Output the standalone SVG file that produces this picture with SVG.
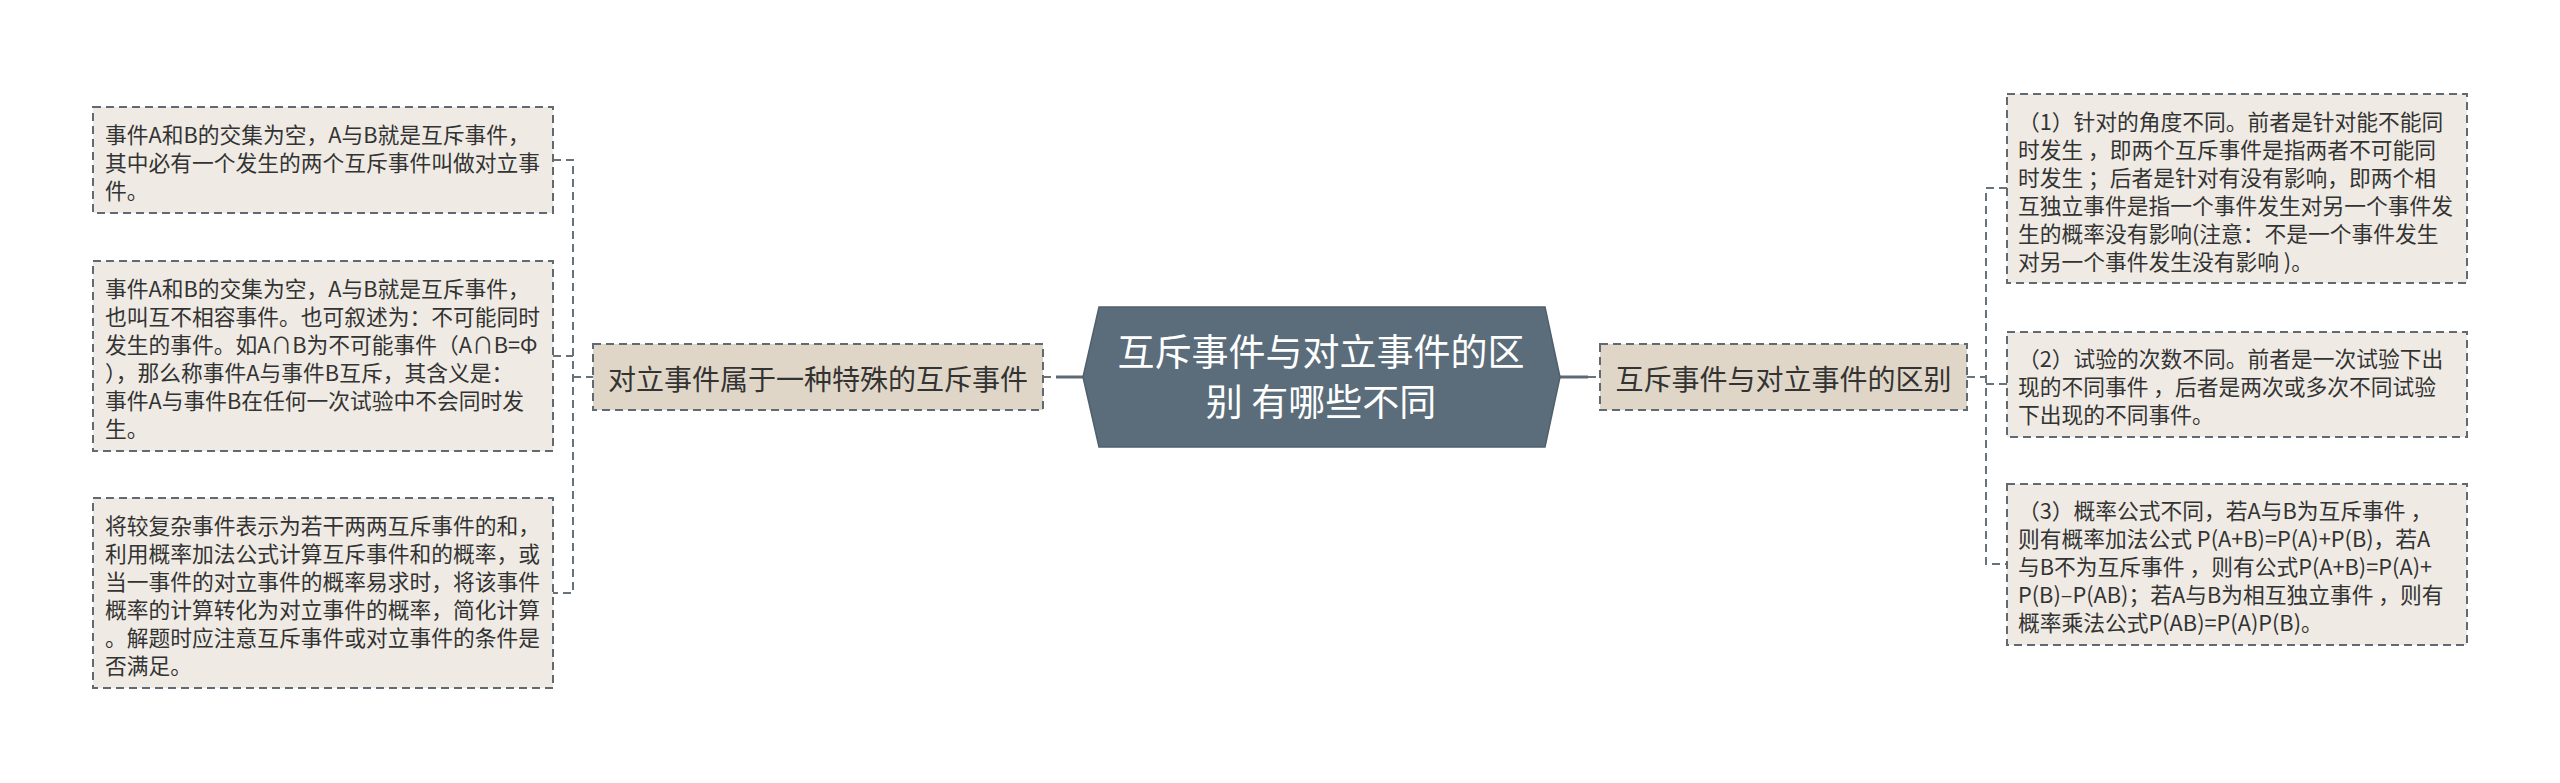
<svg xmlns="http://www.w3.org/2000/svg" width="2560" height="783" viewBox="0 0 2560 783">
<style>
text{font-family:"Noto Sans CJK SC","Noto Sans",sans-serif;fill:#333333}
.leaf{fill:#efebe4;stroke:#5f6a72;stroke-width:2;stroke-dasharray:8 5}
.lvl1{fill:#e0d6c7;stroke:#5f6a72;stroke-width:2;stroke-dasharray:8 5}
.lt{font-size:21.75px}
.nt{font-size:28px;text-anchor:middle}
.ct{font-size:37px;text-anchor:middle;fill:#ffffff}
.dash{fill:none;stroke:#67727b;stroke-width:2;stroke-dasharray:8 5}
.solid{fill:none;stroke:#5a6b77;stroke-width:3}
</style>
<rect width="2560" height="783" fill="#ffffff"/>
<g id="connectors">
<path class="dash" d="M553,160 H573 V593 H553 M553,356 H573 M573,377 H593"/>
<path class="dash" d="M1043,377 H1056" stroke-dasharray="3 4"/>
<path class="solid" d="M1056,377 H1083"/>
<path class="solid" d="M1560,377 H1588"/>
<path class="dash" d="M1588,377 H1600" stroke-dasharray="4 4"/>
<path class="dash" d="M1967,377 H1986 M2007,188 H1986 V564 H2007 M1986,384 H2007"/>
</g>
<g id="center">
<polygon points="1099,307 1545,307 1560,377 1545,447 1099,447 1083,377" fill="#5b6d7a" stroke="#4f606c" stroke-width="1.5"/>
<text class="ct" x="1321" y="366">互斥事件与对立事件的区</text>
<text class="ct" x="1321" y="416">别 有哪些不同</text>
</g>
<g id="left-main">
<rect class="lvl1" x="593" y="344" width="450" height="66"/>
<text class="nt" x="818" y="390">对立事件属于一种特殊的互斥事件</text>
</g>
<g id="right-main">
<rect class="lvl1" x="1600" y="344" width="367" height="66"/>
<text class="nt" x="1783.5" y="390">互斥事件与对立事件的区别</text>
</g>
<g id="left-1">
<rect class="leaf" x="93" y="107" width="460" height="106"/>
<text class="lt" x="105" y="143">事件A和B的交集为空，A与B就是互斥事件，</text>
<text class="lt" x="105" y="171">其中必有一个发生的两个互斥事件叫做对立事</text>
<text class="lt" x="105" y="199">件。</text>
</g>
<g id="left-2">
<rect class="leaf" x="93" y="261" width="460" height="190"/>
<text class="lt" x="105" y="297">事件A和B的交集为空，A与B就是互斥事件，</text>
<text class="lt" x="105" y="325">也叫互不相容事件。也可叙述为：不可能同时</text>
<text class="lt" x="105" y="353">发生的事件。如A∩B为不可能事件（A∩B=Φ</text>
<text class="lt" x="105" y="381">），那么称事件A与事件B互斥，其含义是：</text>
<text class="lt" x="105" y="409">事件A与事件B在任何一次试验中不会同时发</text>
<text class="lt" x="105" y="437">生。</text>
</g>
<g id="left-3">
<rect class="leaf" x="93" y="498" width="460" height="190"/>
<text class="lt" x="105" y="534">将较复杂事件表示为若干两两互斥事件的和，</text>
<text class="lt" x="105" y="562">利用概率加法公式计算互斥事件和的概率，或</text>
<text class="lt" x="105" y="590">当一事件的对立事件的概率易求时，将该事件</text>
<text class="lt" x="105" y="618">概率的计算转化为对立事件的概率，简化计算</text>
<text class="lt" x="105" y="646">。解题时应注意互斥事件或对立事件的条件是</text>
<text class="lt" x="105" y="674">否满足。</text>
</g>
<g id="right-1">
<rect class="leaf" x="2007" y="94" width="460" height="189"/>
<text class="lt" x="2018" y="130">（1）针对的角度不同。前者是针对能不能同</text>
<text class="lt" x="2018" y="158">时发生 ，即两个互斥事件是指两者不可能同</text>
<text class="lt" x="2018" y="186">时发生 ；后者是针对有没有影响，即两个相</text>
<text class="lt" x="2018" y="214">互独立事件是指一个事件发生对另一个事件发</text>
<text class="lt" x="2018" y="242">生的概率没有影响(注意：不是一个事件发生</text>
<text class="lt" x="2018" y="270">对另一个事件发生没有影响 )。</text>
</g>
<g id="right-2">
<rect class="leaf" x="2007" y="332" width="460" height="105"/>
<text class="lt" x="2018" y="367">（2）试验的次数不同。前者是一次试验下出</text>
<text class="lt" x="2018" y="395">现的不同事件 ，后者是两次或多次不同试验</text>
<text class="lt" x="2018" y="423">下出现的不同事件。</text>
</g>
<g id="right-3">
<rect class="leaf" x="2007" y="484" width="460" height="161"/>
<text class="lt" x="2018" y="519">（3）概率公式不同，若A与B为互斥事件 ，</text>
<text class="lt" x="2018" y="547">则有概率加法公式 P(A+B)=P(A)+P(B)，若A</text>
<text class="lt" x="2018" y="575">与B不为互斥事件 ，则有公式P(A+B)=P(A)+</text>
<text class="lt" x="2018" y="603">P(B)–P(AB)；若A与B为相互独立事件 ，则有</text>
<text class="lt" x="2018" y="631">概率乘法公式P(AB)=P(A)P(B)。</text>
</g>
</svg>
